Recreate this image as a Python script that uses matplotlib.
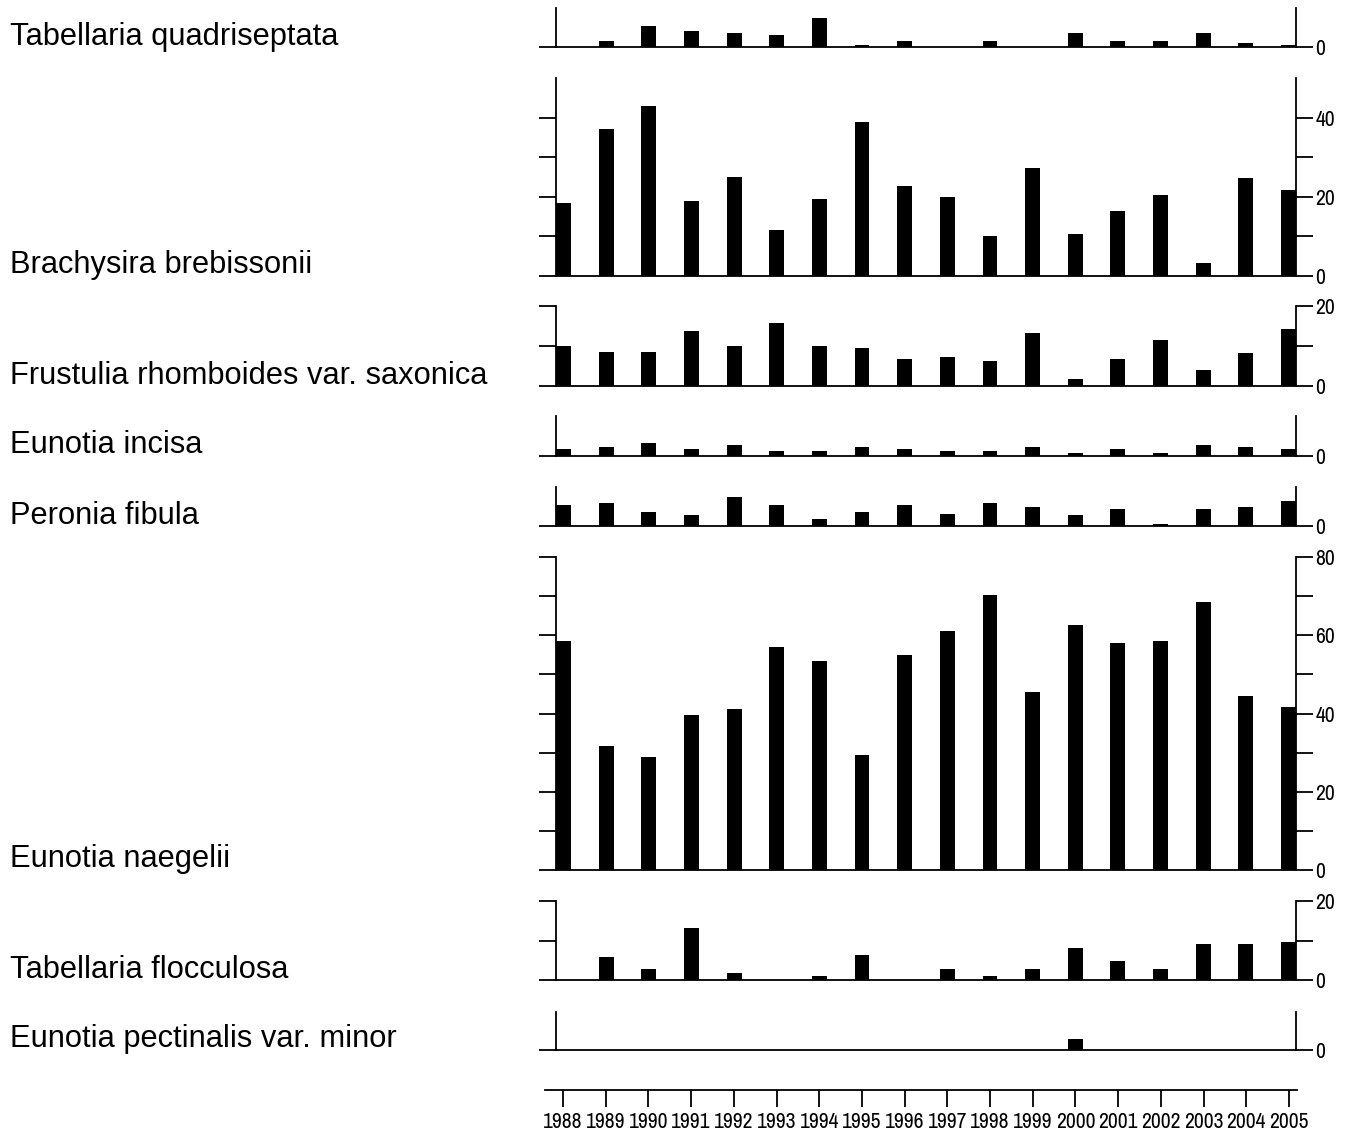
import numpy as np
import matplotlib
matplotlib.use("Agg")
import matplotlib.pyplot as plt

# Data
years = list(range(1988, 2006))

species = [
    "Tabellaria quadriseptata",
    "Brachysira brebissonii",
    "Frustulia rhomboides var. saxonica",
    "Eunotia incisa",
    "Peronia fibula",
    "Eunotia naegelii",
    "Tabellaria flocculosa",
    "Eunotia pectinalis var. minor",
]

tab_quad = [0, 1.6, 5.3, 4.2, 3.7, 3.2, 7.5, 0.6, 1.6, 0, 1.6, 0, 3.7, 1.6, 1.6, 3.7, 1.1, 0.6]
bra_breb = [18.5, 37, 43, 19, 25, 11.6, 19.5, 39, 22.8, 20, 10, 27.3, 10.6, 16.5, 20.5, 3.3, 24.8, 21.8]
fru_rhom = [9.9, 8.6, 8.6, 13.8, 9.9, 15.8, 9.9, 9.4, 6.8, 7.3, 6.2, 13.2, 1.8, 6.8, 11.4, 3.9, 8.3, 14.3]
eun_inc = [1.7, 2.2, 3.3, 1.7, 2.75, 1.2, 1.2, 2.2, 1.7, 1.2, 1.2, 2.2, 0.75, 1.7, 0.75, 2.75, 2.2, 1.7]
per_fib = [5.3, 5.8, 3.7, 2.7, 7.5, 5.3, 1.7, 3.7, 5.3, 3.2, 5.8, 4.8, 2.7, 4.3, 0.6, 4.3, 4.8, 6.4]
eun_nae = [58.6, 31.6, 28.8, 39.6, 41.1, 57, 53.5, 29.3, 55, 61, 70.4, 45.5, 62.5, 58.1, 58.6, 68.6, 44.5, 41.6]
tab_flo = [0, 5.8, 2.7, 13.2, 1.7, 0, 1.0, 6.4, 0, 2.7, 1.0, 2.7, 8.0, 4.9, 2.7, 9.1, 9.1, 9.6]
eun_pec = [0, 0, 0, 0, 0, 0, 0, 0, 0, 0, 0, 0, 2.8, 0, 0, 0, 0, 0]

series = [tab_quad, bra_breb, fru_rhom, eun_inc, per_fib, eun_nae, tab_flo, eun_pec]

# axis maxima, ticks and labelled ticks per panel
ymax = [10, 50, 20, 10, 10, 80, 20, 10]
yticks = [[0], [0, 10, 20, 30, 40], [0, 10, 20], [0], [0],
          list(range(0, 81, 10)), [0, 10, 20], [0]]
ylabels = [[0], [0, 20, 40], [0, 20], [0], [0], [0, 20, 40, 60, 80], [0, 20], [0]]

# Layout (pixels)
W, H = 1348, 1130
x_left, x_right = 556, 1296
panels_px = [(8, 47), (78, 276), (306, 386), (416, 456), (487, 526),
             (557, 870), (901, 980), (1012, 1050)]

bar_w = 0.35
label_font = ["Liberation Sans", "DejaVu Sans"]
tick_font = ["Archivo Narrow", "Liberation Sans", "DejaVu Sans"]

fig = plt.figure(figsize=(W / 100, H / 100), dpi=100)
fig.patch.set_facecolor("white")


def fx(px):
    return px / W


def fy(py):
    return 1 - py / H


for i, (name, vals) in enumerate(zip(species, series)):
    top, base = panels_px[i]
    ax = fig.add_axes([fx(x_left), fy(base), fx(x_right) - fx(x_left), (base - top) / H])
    ax.bar(years, vals, width=bar_w, color="black", align="center")
    ax.set_xlim(years[0] - bar_w / 2, years[-1] + bar_w / 2)
    ax.set_ylim(0, ymax[i])
    ax.spines["top"].set_visible(False)
    for s in ["left", "right", "bottom"]:
        ax.spines[s].set_linewidth(1.3)
        ax.spines[s].set_color("black")
    ax.set_xticks([])
    ax.set_yticks(yticks[i])
    ax.set_yticklabels([str(t) if t in ylabels[i] else "" for t in yticks[i]])
    ax.tick_params(axis="y", which="both", direction="out", length=12, width=1.3,
                   left=True, right=True, labelleft=False, labelright=True,
                   labelsize=15.5, pad=2)
    for lab in ax.get_yticklabels():
        lab.set_family(tick_font)
    ax.set_facecolor("none")
    fig.text(fx(10), fy(base - 10.5), name, fontsize=22.2, family=label_font,
             va="center", ha="left")

# Bottom year axis
axb_left, axb_right = 545, 1297
first_c = 563
step = (1289 - 563) / 17
xl0 = years[0] - (first_c - axb_left) / step
xl1 = years[0] + (axb_right - first_c) / step
axb = fig.add_axes([fx(axb_left), fy(1090), fx(axb_right) - fx(axb_left), 0.001])
axb.set_xlim(xl0, xl1)
axb.set_ylim(0, 1)
for s in ["top", "left", "right"]:
    axb.spines[s].set_visible(False)
axb.spines["bottom"].set_linewidth(1.3)
axb.set_yticks([])
axb.set_xticks(years)
axb.set_xticklabels([str(y) for y in years])
axb.tick_params(axis="x", direction="out", length=12, width=1.3, labelsize=15.5, pad=4)
for lab in axb.get_xticklabels():
    lab.set_family(tick_font)
axb.set_facecolor("none")

fig.savefig("out.png", dpi=100, facecolor="white")
